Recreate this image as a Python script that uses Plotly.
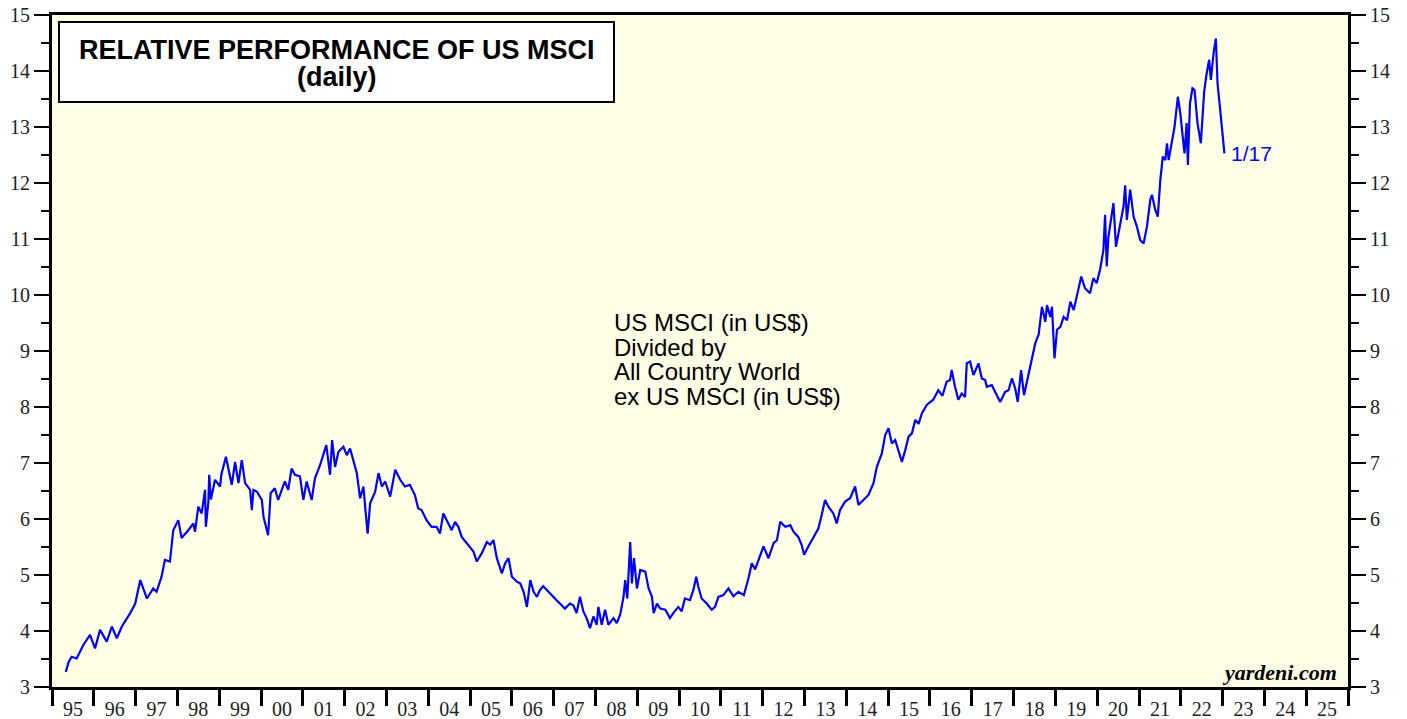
import plotly.graph_objects as go
from datetime import datetime, timedelta

# decimal years
years = [
1995.33,1995.40,1995.47,1995.59,1995.75,1995.91,1996.03,1996.15,1996.31,1996.43,1996.55,1996.67,1996.87,1996.99,
1997.11,1997.27,1997.42,1997.50,1997.62,1997.70,1997.82,1997.90,1998.02,1998.10,1998.26,1998.38,1998.42,1998.50,
1998.58,1998.66,1998.68,1998.74,1998.76,1998.80,1998.90,1999.02,1999.05,1999.16,1999.30,1999.38,1999.46,1999.54,
1999.62,1999.74,1999.78,1999.82,1999.90,2000.02,2000.06,2000.17,2000.23,2000.33,2000.41,2000.57,2000.65,2000.73,
2000.81,2000.93,2001.01,2001.09,2001.21,2001.29,2001.41,2001.49,2001.56,2001.65,2001.70,2001.77,2001.85,2001.97,
2002.05,2002.13,2002.21,2002.29,2002.37,2002.45,2002.49,2002.55,2002.61,2002.73,2002.81,2002.89,2002.97,2003.09,
2003.21,2003.33,2003.44,2003.56,2003.68,2003.76,2003.84,2003.96,2004.08,2004.20,2004.28,2004.36,2004.48,2004.56,
2004.64,2004.72,2004.80,2004.92,2005.00,2005.08,2005.16,2005.28,2005.40,2005.48,2005.56,2005.64,2005.76,2005.84,
2005.92,2006.00,2006.12,2006.20,2006.28,2006.36,2006.44,2006.52,2006.60,2006.67,2006.75,2006.87,2006.99,2007.07,
2007.15,2007.27,2007.39,2007.47,2007.55,2007.63,2007.71,2007.79,2007.87,2007.95,2008.03,2008.07,2008.15,2008.23,
2008.31,2008.43,2008.51,2008.59,2008.67,2008.71,2008.76,2008.83,2008.87,2008.92,2008.99,2009.07,2009.19,2009.27,
2009.35,2009.39,2009.47,2009.55,2009.67,2009.78,2009.86,2009.98,2010.06,2010.14,2010.26,2010.34,2010.41,2010.46,
2010.54,2010.66,2010.78,2010.86,2010.94,2011.06,2011.18,2011.30,2011.42,2011.55,2011.66,2011.74,2011.82,2011.90,
2012.02,2012.14,2012.26,2012.34,2012.42,2012.54,2012.66,2012.74,2012.85,2012.93,2012.99,2013.09,2013.21,2013.33,
2013.41,2013.49,2013.57,2013.69,2013.77,2013.85,2013.97,2014.09,2014.21,2014.29,2014.45,2014.53,2014.65,2014.73,
2014.85,2014.93,2015.01,2015.09,2015.17,2015.25,2015.33,2015.41,2015.49,2015.57,2015.65,2015.73,2015.81,2015.93,
2016.08,2016.20,2016.30,2016.40,2016.48,2016.52,2016.60,2016.68,2016.76,2016.84,2016.88,2016.96,2017.04,2017.16,
2017.24,2017.32,2017.36,2017.48,2017.56,2017.68,2017.80,2017.88,2017.96,2018.04,2018.10,2018.18,2018.25,2018.33,
2018.44,2018.52,2018.60,2018.68,2018.76,2018.80,2018.88,2018.92,2018.98,2019.04,2019.12,2019.20,2019.28,2019.36,
2019.44,2019.52,2019.62,2019.71,2019.83,2019.91,2019.99,2020.07,2020.15,2020.19,2020.23,2020.27,2020.35,2020.39,
2020.45,2020.55,2020.63,2020.67,2020.71,2020.79,2020.87,2020.95,2021.03,2021.11,2021.19,2021.27,2021.31,2021.39,
2021.45,2021.51,2021.57,2021.63,2021.67,2021.71,2021.77,2021.85,2021.93,2021.99,2022.05,2022.09,2022.14,2022.17,
2022.22,2022.28,2022.33,2022.40,2022.48,2022.52,2022.56,2022.62,2022.68,2022.72,2022.79,2022.84,2022.88,2022.92,
2022.98,2023.02,2023.045]

values = [
3.27,3.45,3.54,3.51,3.75,3.93,3.69,4.02,3.81,4.08,3.87,4.08,4.32,4.49,
4.91,4.58,4.76,4.70,4.97,5.27,5.24,5.80,5.98,5.66,5.80,5.92,5.77,6.22,
6.10,6.52,5.86,6.30,6.79,6.35,6.70,6.58,6.79,7.11,6.61,7.02,6.64,7.05,
6.64,6.52,6.16,6.52,6.49,6.34,6.04,5.71,6.46,6.55,6.34,6.67,6.52,6.90,
6.79,6.76,6.34,6.67,6.34,6.73,6.96,7.14,7.32,6.79,7.41,6.93,7.20,7.29,
7.14,7.26,7.02,6.82,6.37,6.58,6.22,5.74,6.28,6.49,6.82,6.58,6.67,6.40,
6.88,6.70,6.58,6.61,6.43,6.19,6.16,5.98,5.86,5.86,5.74,6.10,5.92,5.80,
5.95,5.86,5.68,5.57,5.51,5.42,5.24,5.39,5.59,5.54,5.62,5.30,5.03,5.21,
5.30,4.97,4.88,4.85,4.70,4.43,4.91,4.70,4.61,4.73,4.80,4.70,4.61,4.55,
4.49,4.40,4.49,4.46,4.32,4.61,4.35,4.23,4.05,4.26,4.11,4.43,4.11,4.38,
4.11,4.23,4.14,4.29,4.61,4.91,4.58,5.59,4.85,5.30,4.76,5.09,5.06,4.76,
4.61,4.32,4.49,4.40,4.38,4.23,4.32,4.43,4.35,4.58,4.55,4.73,4.97,4.79,
4.58,4.49,4.38,4.43,4.61,4.64,4.76,4.62,4.70,4.64,4.94,5.21,5.10,5.27,
5.51,5.30,5.57,5.62,5.95,5.86,5.89,5.77,5.68,5.54,5.36,5.51,5.68,5.83,
6.07,6.34,6.22,6.10,5.92,6.16,6.31,6.37,6.58,6.25,6.37,6.43,6.64,6.93,
7.17,7.50,7.62,7.35,7.41,7.23,7.02,7.23,7.47,7.53,7.77,7.70,7.89,8.04,
8.13,8.30,8.20,8.45,8.48,8.66,8.36,8.13,8.24,8.18,8.78,8.81,8.57,8.78,
8.51,8.48,8.36,8.39,8.27,8.09,8.27,8.30,8.51,8.33,8.09,8.66,8.21,8.48,
8.84,9.14,9.29,9.79,9.52,9.82,9.61,9.79,8.87,9.38,9.43,9.61,9.55,9.88,
9.73,10.00,10.33,10.12,10.03,10.30,10.21,10.45,10.80,11.43,10.51,11.04,11.43,11.64,
10.86,11.25,11.58,11.96,11.34,11.88,11.40,11.22,10.98,10.92,11.22,11.70,11.79,11.52,
11.40,12.05,12.47,12.41,12.71,12.41,12.65,13.00,13.54,13.24,12.80,12.53,13.07,12.32,
13.42,13.69,13.66,13.07,12.71,13.30,13.63,13.96,14.20,13.84,14.35,14.58,13.78,13.48,
13.00,12.80,12.53]

title_lines = ["RELATIVE PERFORMANCE OF US MSCI", "(daily)"]
note_lines = ["US MSCI (in US$)", "Divided by", "All Country World", "ex US MSCI (in US$)"]
last_label = "1/17"
source = "yardeni.com"

FIG_W, FIG_H = 1407, 719
# plot-area edges in screen pixels
L, R, T, B = 52, 1348, 15, 687
W, H = R - L, B - T


def px(x):
    return (x - L) / W


def py(y):
    return (B - y) / H


def to_date(y):
    yr = int(y)
    start = datetime(yr, 1, 1)
    days = (datetime(yr + 1, 1, 1) - start).days
    return start + timedelta(days=(y - yr) * days)


dates = [to_date(y) for y in years]

fig = go.Figure()
fig.add_trace(go.Scatter(x=dates, y=values, mode="lines",
                         line=dict(color="#0000FF", width=2.2), hoverinfo="skip",
                         showlegend=False))
fig.add_trace(go.Scatter(x=dates, y=values, mode="lines", yaxis="y2",
                         line=dict(color="rgba(0,0,0,0)", width=0), hoverinfo="skip",
                         showlegend=False))

tickfont = dict(family="Liberation Serif", size=20, color="#222222")
yax = dict(range=[3, 15], dtick=1, ticks="outside", ticklen=15, tickwidth=2,
           tickcolor="black", showline=True, linewidth=3, linecolor="black",
           showgrid=False, zeroline=False, tickfont=tickfont, automargin=False,
           minor=dict(dtick=0.5, ticks="outside", ticklen=8, tickwidth=2,
                      tickcolor="black", showgrid=False))

fig.update_layout(
    width=FIG_W, height=FIG_H,
    margin=dict(l=L, r=FIG_W - R, t=T, b=FIG_H - B, autoexpand=False),
    paper_bgcolor="white", plot_bgcolor="#FFFFE6",
    xaxis=dict(type="date", range=[datetime(1995, 1, 1), datetime(2026, 1, 1)],
               dtick="M12", tick0="1995-01-01", tickformat="%y",
               ticklabelmode="period", ticks="outside", ticklen=16, tickwidth=3,
               tickcolor="black", showline=True, linewidth=3, linecolor="black",
               mirror=True, showgrid=False, zeroline=False, tickfont=tickfont,
               automargin=False, ticklabelstandoff=-14),
    yaxis=dict(**yax, side="left"),
    yaxis2=dict(**yax, side="right", overlaying="y", matches="y"),
)

# title box
fig.add_shape(type="rect", xref="x domain", yref="y domain",
              x0=px(59), x1=px(614), y0=py(102), y1=py(22),
              line=dict(color="black", width=2), fillcolor="white", layer="above")
for txt, yy in zip(title_lines, [50, 77]):
    fig.add_annotation(xref="x domain", yref="y domain", x=px(337), y=py(yy),
                       text="<b>" + txt + "</b>", showarrow=False,
                       xanchor="center", yanchor="middle",
                       font=dict(family="Liberation Sans", size=27, color="black"))

for txt, yy in zip(note_lines, [322, 347, 371, 396]):
    fig.add_annotation(xref="x domain", yref="y domain", x=px(612), y=py(yy),
                       text=txt, showarrow=False, xanchor="left", yanchor="middle",
                       font=dict(family="Liberation Sans", size=24, color="black"))

fig.add_annotation(x=dates[-1], y=values[-1], text=last_label, showarrow=False,
                   xanchor="left", yanchor="middle", xshift=5,
                   font=dict(family="Liberation Sans", size=21, color="#0000FF"))

fig.add_annotation(xref="x domain", yref="y domain", x=px(1339), y=py(672),
                   text="<b><i>" + source + "</i></b>", showarrow=False,
                   xanchor="right", yanchor="middle",
                   font=dict(family="Liberation Serif", size=22, color="black"))

# remove the default 8px page margin so the figure fills the window exactly
fig.write_html("out.html", config={"displayModeBar": False},
               post_script="document.body.style.margin='0px';document.body.style.overflow='hidden';")
